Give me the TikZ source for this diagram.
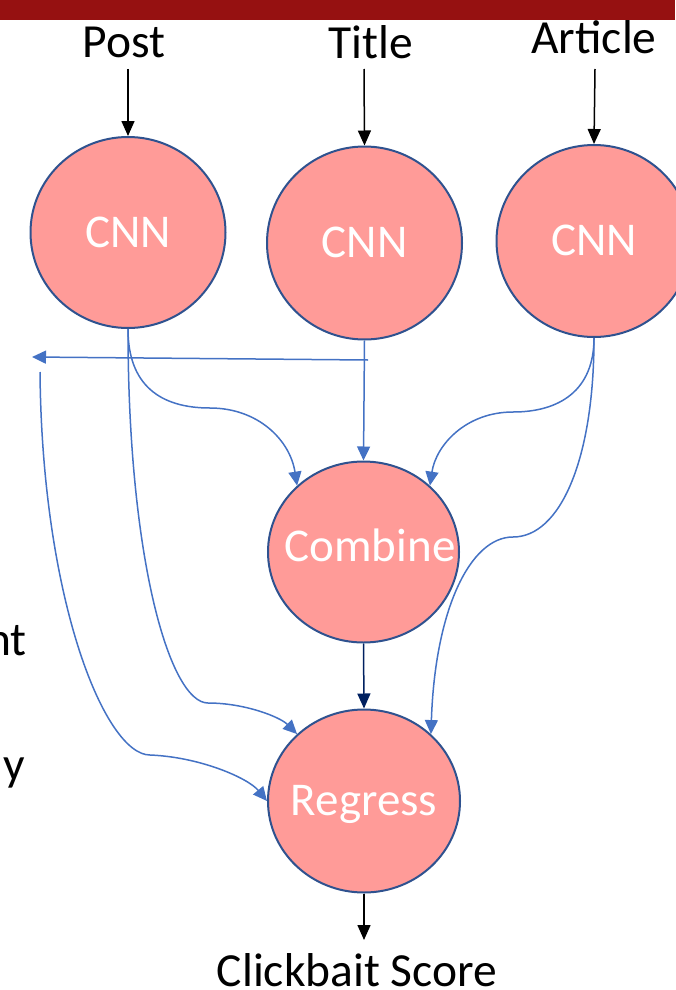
\documentclass[tikz,border=0pt]{standalone}
\usepackage{fontspec}
\setmainfont{Carlito}
\usetikzlibrary{arrows.meta,shapes.geometric}
\definecolor{barred}{HTML}{961111}
\definecolor{nodefill}{HTML}{FF9B98}
\definecolor{nodeline}{HTML}{2F528F}
\definecolor{linkblue}{HTML}{4472C4}
\definecolor{navyblue}{HTML}{002060}
\begin{document}
\begin{tikzpicture}[x=1pt,y=-1pt,
  unit/.style={ellipse, draw=nodeline, fill=nodefill, line width=2pt, inner sep=0pt,
    text=white, text height=29pt, text depth=0pt, font=\fontsize{47}{50}\selectfont},
  lbl/.style={inner sep=0pt, anchor=base, font=\fontsize{47.5}{50}\selectfont},
  feed/.style={line width=1.5pt, -{Triangle[length=15pt,width=13pt]}},
  link/.style={linkblue, line width=1.5pt, -{Triangle[length=14pt,width=13pt]}},
]
\useasboundingbox (0,0) rectangle (675,990);
\fill[barred] (0,0) rectangle (675,20);

% labels
\node[lbl] (tpost) at (124,58) {Post};
\node[lbl] (ttitle) at (371,59) {Title};
\node[lbl] (tart) at (594,53) {Article};
\node[lbl] (tscore) at (357,986) {Clickbait Score};
\node[lbl, anchor=base east] (frag1) at (27,655) {nt};
\node[lbl, anchor=base east] (frag2) at (25,780) {y};

% units
\node[unit, minimum width=195pt, minimum height=191pt] (post) at (128,232.5) {\makebox[0pt]{CNN}};
\node[unit, minimum width=195pt, minimum height=193pt] (title) at (364.5,243) {\makebox[0pt]{CNN}};
\node[unit, minimum width=195pt, minimum height=192pt] (art) at (594,241) {\makebox[0pt]{CNN}};
\node[unit, minimum width=191pt, minimum height=181pt] (comb) at (363.5,552) {\makebox[0pt]{\hspace*{13pt}\raisebox{5pt}{Combine}}};
\node[unit, minimum width=192pt, minimum height=183pt] (reg) at (364,801) {\makebox[0pt]{Regress}};

% free ends
\coordinate (inpost) at (128,69);
\coordinate (intitle) at (364,69);
\coordinate (inart) at (595,69);
\coordinate (outscore) at (364,940);
\coordinate (sidefrom) at (368,360);
\coordinate (sideto) at (32,357);
\coordinate (sidestart) at (40,372);

% black arrows
\draw[feed] (inpost) -- (post.north);
\draw[feed] (intitle) -- (title.north);
\draw[feed] (inart) -- (art.north);
\draw[feed] (reg.south) -- (outscore);
\draw[feed, navyblue] (comb.south) -- (reg.north);

% blue connectors
\draw[link] (sidefrom) -- (sideto);
\draw[link] (title.south) -- (comb.north);
\draw[link] (post.south) .. controls (128,385) and (160,408) .. (210,408)
  .. controls (258,408) and (290,440) .. (comb.135);
\draw[link] (art.south) .. controls (594,390) and (560,412) .. (513,412)
  .. controls (466,412) and (436,445) .. (comb.45);
\draw[link] (art.south) .. controls (594,460) and (560,537) .. (513,537)
  .. controls (470,537) and (435,610) .. (reg.45);
\draw[link] (post.south) .. controls (128,560) and (170,703) .. (208,703)
  .. controls (245,703) and (280,717) .. (reg.135);
\draw[link] (sidestart) .. controls (42,600) and (105,755) .. (150,755)
  .. controls (200,757) and (248,778) .. (reg.west);
\end{tikzpicture}
\end{document}
